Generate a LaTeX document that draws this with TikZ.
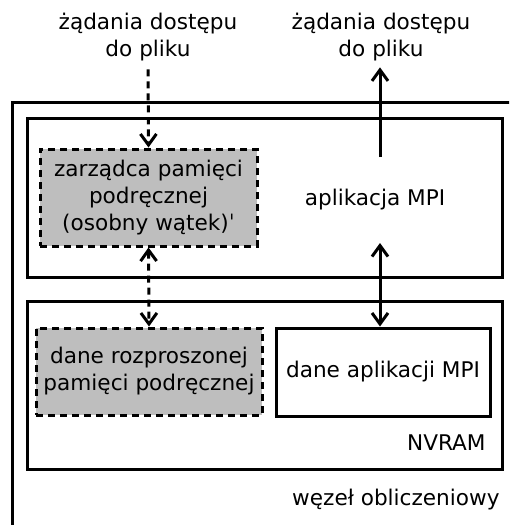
\documentclass[tikz,border=0pt]{standalone}
\usepackage{fontspec}
\setmainfont{DejaVu Sans}
\usetikzlibrary{arrows.meta,positioning,fit}
\definecolor{cachegray}{RGB}{190,190,190}

\begin{document}
\begin{tikzpicture}[
  x=0.5pt, y=-0.5pt,
  >={Straight Barb[length=5.5pt,width=8pt]},
  font=\fontsize{10.8}{13.5}\selectfont,
  frame/.style={draw, line width=1.5pt, inner sep=0pt},
  cachebox/.style={draw, line width=1.5pt, dash pattern=on 3.5pt off 2.5pt, fill=cachegray, inner sep=0pt, align=center},
  databox/.style={draw, line width=1.5pt, inner sep=0pt, align=center},
  flow/.style={line width=1.5pt},
  dashflow/.style={line width=1.5pt, dash pattern=on 3.5pt off 2.5pt},
  caption/.style={align=center, inner sep=0pt}
]
\clip (0,0) rectangle (509,525);

% compute node frame (runs past the page)
\node[frame, fit={(12,102) (580,600)}] (compnode) {};
\node[caption, anchor=east] (complabel) at (500,500) {węzeł obliczeniowy};

% application
\node[frame, fit={(27,118) (502,277)}] (app) {};
\node[caption] (applabel) at (375,200) {aplikacja MPI};
\node[cachebox, minimum width=108.5pt, minimum height=48.5pt] (cache) at (148.5,197.5)
  {zarządca pamięci\\podręcznej\\(osobny wątek)ˈ};

% NVRAM
\node[frame, fit={(27,301) (502,469)}] (nvram) {};
\node[caption, anchor=east] (nvramlabel) at (486,443) {NVRAM};
\node[cachebox, minimum width=113pt, minimum height=43.5pt] (cachedata) at (149,371.5)
  {dane rozproszonej\\pamięci podręcznej};
\node[databox, minimum width=107pt, minimum height=44pt] (mpidata) at (383,372) {dane aplikacji MPI};

% file requests
\node[caption] (lreq) at (148,37) {żądania dostępu\\do pliku};
\node[caption] (rreq) at (381,37) {żądania dostępu\\do pliku};

\coordinate (appup) at (380,157);
\coordinate (appdown) at (380,243);

\draw[dashflow, ->, shorten <=4pt] (lreq.south) -- (cache.north);
\draw[flow, ->, shorten >=3pt] (appup) -- (appup |- rreq.south);
\draw[dashflow, <->] (cache.south) -- (cachedata.north);
\draw[flow, <->] (appdown) -- (appdown |- mpidata.north);
\end{tikzpicture}
\end{document}
